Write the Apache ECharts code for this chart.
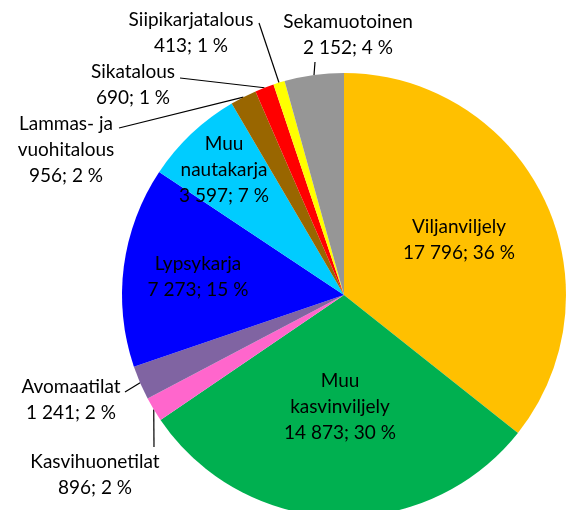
<!DOCTYPE html>
<html><head><meta charset="utf-8">
<script src="https://cdn.jsdelivr.net/npm/echarts@6/dist/echarts.min.js"></script>
<style>html,body{margin:0;padding:0;background:#fff}#c{width:566px;height:510px}</style>
</head><body><div id="c"></div>
<script>
const categories = ["Viljanviljely","Muu\nkasvinviljely","Kasvihuonetilat","Avomaatilat","Lypsykarja","Muu\nnautakarja","Lammas- ja\nvuohitalous","Sikatalous","Siipikarjatalous","Sekamuotoinen"];
const values = [17796,14873,896,1241,7273,3597,956,690,413,2152];
const colors = ["#FFC000","#00B050","#FF66CC","#8064A2","#0000FF","#00CCFF","#996600","#FF0000","#FFFF00","#969696"];
const outside = [false,false,true,true,false,false,true,true,true,true];
// label layout (centre of label text, and leader end point)
const labelPos = [[459,240],[340,407],[95,475],[71,400],[198,277],[224,170],[66,150],[133,85],[191,33],[348,35]];
const lineEnd = [null,null,[154,447],[125,392],null,null,[119,128],[180,78],[259,23],[315,62]];

const CX = 344, CY = 295, R = 222;
const total = values.reduce((a,b)=>a+b,0);
function fmt(v){return String(v).replace(/\B(?=(\d{3})+(?!\d))/g,' ');}
const mids = [];
let acc = 0;
values.forEach(v=>{mids.push((acc+v/2)/total*2*Math.PI); acc+=v;});

const chart = echarts.init(document.getElementById('c'));
chart.setOption({
  animation:false,
  series:[{
    type:'pie',
    center:[CX,CY],
    radius:R,
    startAngle:90,
    clockwise:true,
    avoidLabelOverlap:false,
    data: categories.map((n,i)=>({name:n,value:values[i],itemStyle:{color:colors[i]},
      labelLine:{show:outside[i],lineStyle:{color:'#000',width:1.2}}})),
    label:{
      show:true,position:'outside',color:'#000',
      fontFamily:'Lato, sans-serif',fontSize:19,lineHeight:26,align:'center',
      formatter:p=>p.name+'\n'+fmt(p.value)+'; '+Math.round(p.value/total*100)+' %'
    },
    labelLine:{length:5,length2:5,smooth:false},
    labelLayout:function(p){
      const i=p.dataIndex;
      const r={x:labelPos[i][0],y:labelPos[i][1],align:'center',verticalAlign:'middle'};
      if(lineEnd[i]){
        const a=mids[i];
        const ex=CX+R*Math.sin(a), ey=CY-R*Math.cos(a);
        r.labelLinePoints=[[ex,ey],[lineEnd[i][0],lineEnd[i][1]],[lineEnd[i][0],lineEnd[i][1]]];
      }
      return r;
    }
  }]
});
</script></body></html>
